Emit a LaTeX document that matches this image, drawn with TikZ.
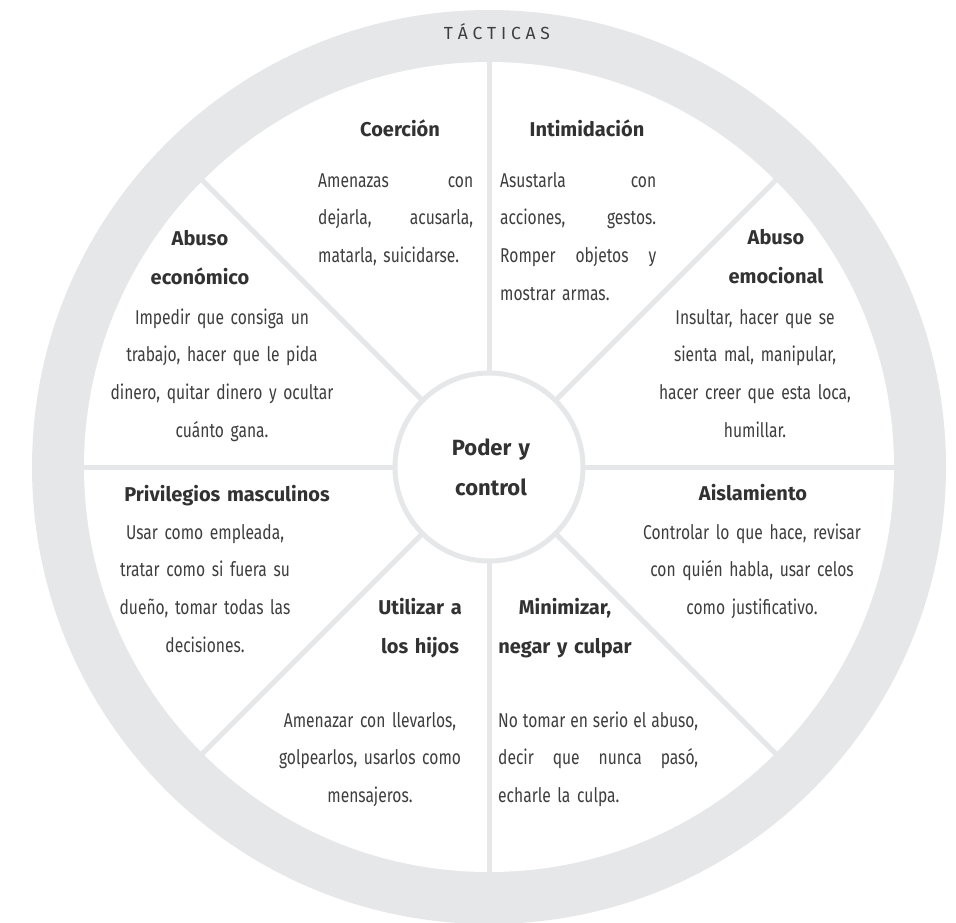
\documentclass[tikz,border=0pt]{standalone}
\usepackage{fontspec}
\setmainfont{Fira Sans}[FakeStretch=0.78]
\newfontfamily\headfont{Fira Sans}
\usepackage{tikz}
\newcommand{\trackgap}{\kern4.8pt}

\begin{document}
\begin{tikzpicture}[
    x=1pt,
    y=-1pt,
    line cap=butt,
    line join=round
]

% =========================================================
% Colors
% =========================================================
\definecolor{ringgray}{RGB}{230,231,232}
\definecolor{inkgray}{RGB}{62,62,62}
\definecolor{headgray}{RGB}{50,50,50}

% =========================================================
% Styles
% =========================================================
\tikzset{
    spoke/.style={ringgray,line width=5pt},
    hubring/.style={ringgray,line width=5pt,fill=white},
    heading/.style={headgray,inner sep=0pt,anchor=base,text width=260pt,
        align=center,font={\headfont\bfseries\fontsize{20}{39}\selectfont}},
    hubtitle/.style={heading,font={\headfont\bfseries\fontsize{22}{40}\selectfont}},
    bodyblock/.style={inkgray,inner sep=0pt,anchor=base,
        font={\fontsize{20}{37.8}\selectfont}},
    centerblock/.style={bodyblock,text width=260pt,align=center},
    justblock/.style={bodyblock,anchor=base west,align=left},
    tactics/.style={inkgray,inner sep=0pt,anchor=base,
        font={\headfont\fontsize{17.5}{17.5}\selectfont}}
}

\useasboundingbox (0,0) rectangle (956,922);

% =========================================================
% Wheel
% =========================================================
\coordinate (hub) at (489,467);
\fill[ringgray] (hub) circle (457);
\fill[white] (hub) circle (405);
\foreach \a in {0,45,...,315}
    \draw[spoke] (hub) -- ++(\a:406);
\draw[hubring] (hub) circle (94);

\node[tactics] (tacticas) at (497,39)
    {T\trackgap Á\trackgap C\trackgap T\trackgap I\trackgap C\trackgap A\trackgap S};
\node[hubtitle] (poder) at (491,455) {Poder y\\control};

% =========================================================
% Upper sectors
% =========================================================
\node[heading] (coercion-title) at (400,136) {Coerción};
\node[justblock,text width=155pt] (coercion-text) at (318,187)
    {Amenazas\hfill con\\dejarla,\hfill acusarla,\\matarla, suicidarse.};

\node[heading] (intim-title) at (587,136) {Intimidación};
\node[justblock,text width=156pt] (intim-text) at (500,187)
    {Asustarla\hfill con\\acciones,\hfill gestos.\\Romper\hfill objetos\hfill y\\mostrar armas.};

\node[heading] (econ-title) at (200,245) {Abuso\\económico};
\node[centerblock] (econ-text) at (222,324)
    {Impedir que consiga un\\trabajo, hacer que le pida\\dinero, quitar dinero y ocultar\\cuánto gana.};

\node[heading] (emoc-title) at (776,244) {Abuso\\emocional};
\node[centerblock] (emoc-text) at (755,324)
    {Insultar, hacer que se\\sienta mal, manipular,\\hacer creer que esta loca,\\humillar.};

% =========================================================
% Lower sectors
% =========================================================
\node[heading] (priv-title) at (227,501) {Privilegios masculinos};
\node[centerblock] (priv-text) at (205,539)
    {Usar como empleada,\\tratar como si fuera su\\dueño, tomar todas las\\decisiones.};

\node[heading] (aisl-title) at (753,500) {Aislamiento};
\node[centerblock] (aisl-text) at (752,539)
    {Controlar lo que hace, revisar\\con quién habla, usar celos\\como justificativo.};

\node[heading] (hijos-title) at (420,614) {Utilizar a\\los hijos};
\node[centerblock] (hijos-text) at (370,727)
    {Amenazar con llevarlos,\\golpearlos, usarlos como\\mensajeros.};

\node[heading] (minim-title) at (565,614) {Minimizar,\\negar y culpar};
\node[justblock,text width=200pt] (minim-text) at (498,727)
    {No\hfill tomar\hfill en\hfill serio\hfill el\hfill abuso,\\decir\hfill que\hfill nunca\hfill pasó,\\echarle la culpa.};

\end{tikzpicture}
\end{document}
